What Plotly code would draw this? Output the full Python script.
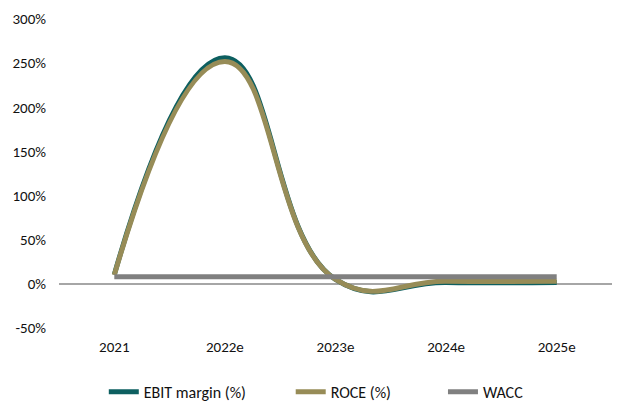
import plotly.graph_objects as go

years = ["2021", "2022e", "2023e", "2024e", "2025e"]
ebit_margin = [10.5, 256, 5, 1.5, 1.5]
roce = [10, 252, 5, 3, 3]
wacc = [8, 8, 8, 8, 8]
y_ticks = [-50, 0, 50, 100, 150, 200, 250, 300]
y_tick_labels = ["-50%", "0%", "50%", "100%", "150%", "200%", "250%", "300%"]

font_family = "Carlito, Calibri, Lato, sans-serif"

fig = go.Figure()
fig.add_trace(go.Scatter(x=years, y=ebit_margin, name="EBIT margin (%)" + "\u00a0" * 11, mode="lines",
                         line=dict(color="#0D5F60", width=5, shape="spline", smoothing=1.3)))
fig.add_trace(go.Scatter(x=years, y=roce, name="ROCE (%)" + "\u00a0" * 13, mode="lines",
                         line=dict(color="#978C57", width=5, shape="spline", smoothing=1.3)))
fig.add_trace(go.Scatter(x=years, y=wacc, name="WACC", mode="lines",
                         line=dict(color="#808080", width=5, shape="spline", smoothing=1.3)))

fig.update_layout(
    width=622, height=407,
    margin=dict(l=59, r=10, t=19, b=79, autoexpand=False),
    paper_bgcolor="white", plot_bgcolor="white",
    font=dict(family=font_family, size=15, color="#111111"),
    showlegend=True,
    legend=dict(orientation="h", x=0.081, xanchor="left", y=-0.207, yanchor="middle",
                font=dict(size=16), tracegroupgap=0),
    xaxis=dict(type="category", range=[-0.5, 4.5], showgrid=False, showline=False,
               ticks="", ticklabelstandoff=8, tickfont=dict(size=15), automargin=False),
    yaxis=dict(range=[-50, 300], tickvals=y_ticks, ticktext=y_tick_labels, showgrid=False,
               showline=False, zeroline=True, zerolinecolor="#A6A6A6", zerolinewidth=1.5,
               ticks="", tickfont=dict(size=15), ticklabelstandoff=12, automargin=False),
)

post = "document.body.style.margin='0';"
fig.write_html("out.html", post_script=post, config={"displayModeBar": False})
